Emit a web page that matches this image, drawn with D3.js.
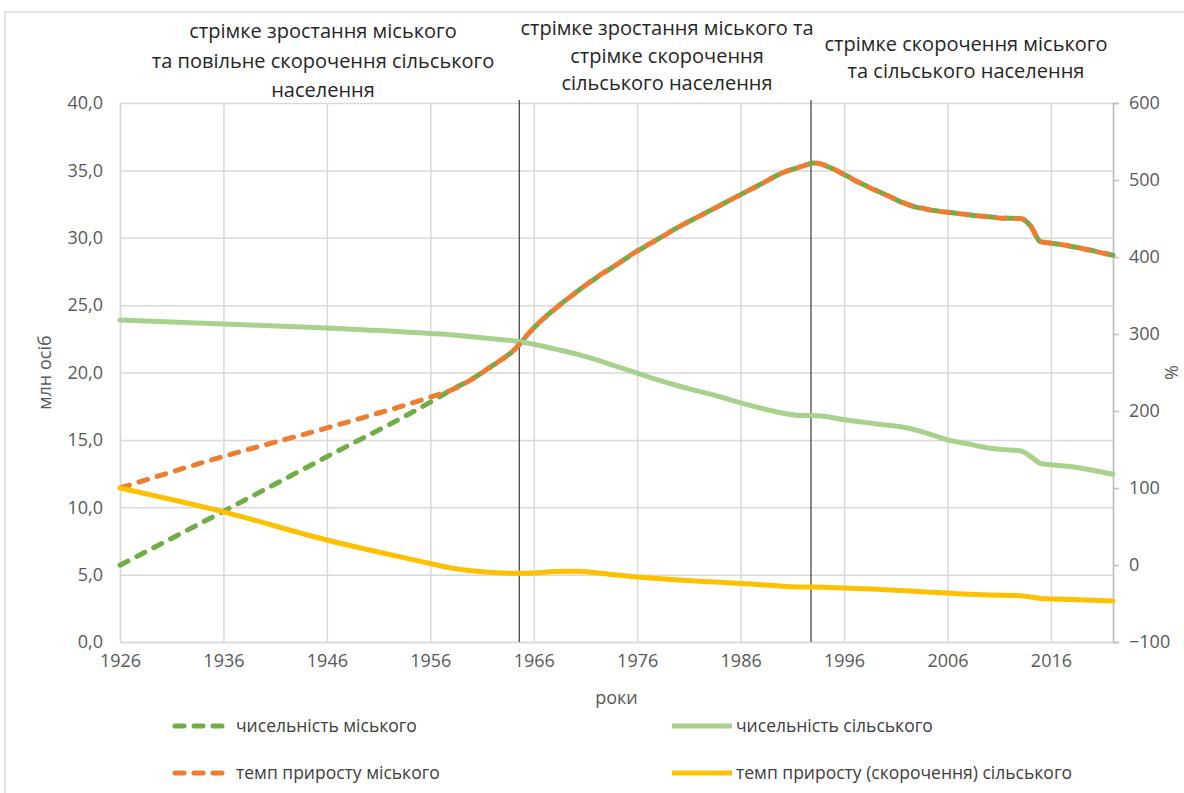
<!DOCTYPE html>
<html><head><meta charset="utf-8">
<script src="https://cdn.jsdelivr.net/npm/d3@7"></script>
<style>
body{margin:0;background:#fff}
svg{display:block}
text{font-family:"Open Sans",sans-serif}
</style>
</head><body>
<svg id="chart" width="1184" height="793"></svg>
<script>
// ---- data ----
const years = [1926,1936,1946,1956,1958,1960,1962,1964,1966,1968,1970,1972,1974,1976,1978,1980,1982,1984,1986,1988,1990,1992,1993,1994,1996,1998,2000,2002,2004,2006,2008,2010,2012,2013,2014,2015,2016,2018,2020,2022];
const urbanPop = [5.7,9.7,13.75,17.8,18.7,19.5,20.5,21.6,23.3,24.7,25.9,27.0,28.0,29.0,29.9,30.8,31.6,32.4,33.2,34.0,34.8,35.3,35.55,35.4,34.7,33.9,33.2,32.5,32.1,31.9,31.7,31.55,31.45,31.45,30.9,29.7,29.6,29.35,29.05,28.7];
const ruralPop = [23.9,23.6,23.3,22.9,22.8,22.65,22.5,22.35,22.1,21.75,21.4,20.95,20.45,19.95,19.45,19.0,18.6,18.2,17.75,17.35,17.0,16.8,16.8,16.75,16.5,16.3,16.1,15.9,15.5,15.0,14.7,14.4,14.25,14.2,13.8,13.25,13.15,13.0,12.75,12.45];
const urbanRate = [100,141,178,218,227,241,259,278,308,332,353,373,390,408,423,439,453,467,481,495,509,518,522,520,507,493,481,469,462,458,455,452,450,450,441,420,418,414,408,402];
const ruralRate = [100,69,32.5,2,-4,-7.5,-9.8,-10.8,-10.5,-8.5,-8,-10,-13,-15.5,-17.5,-19.5,-21,-22.5,-24,-25.5,-27.5,-28.5,-28.7,-29,-30,-31,-32,-33.5,-35,-36.5,-38,-39,-39.5,-39.8,-41.5,-43.5,-44,-44.8,-45.7,-46.7];
const xTicks = [1926,1936,1946,1956,1966,1976,1986,1996,2006,2016];
const leftTicks = [0,5,10,15,20,25,30,35,40];
const rightTicks = [-100,0,100,200,300,400,500,600];
const dividerYears = [1964.6, 1992.8];
const periodLabels = [
  ["стрімке зростання міського", "та повільне скорочення сільського", "населення"],
  ["стрімке зростання міського та", "стрімке скорочення", "сільського населення"],
  ["стрімке скорочення міського", "та сільського населення"]
];
const seriesNames = ["чисельність міського", "чисельність сільського", "темп приросту міського", "темп приросту (скорочення) сільського"];
const xTitle = "роки", yLeftTitle = "млн осіб", yRightTitle = "%";

// ---- layout ----
const svg = d3.select("#chart");
const L = 120, R = 1113, T = 103, B = 642;
const x = d3.scaleLinear().domain([1926, 2022]).range([L, R]);
const yL = d3.scaleLinear().domain([0, 40]).range([B, T]);
const yR = d3.scaleLinear().domain([-100, 600]).range([B, T]);

const C = {urban:"#70ad47", rural:"#a9d18e", urate:"#ed7d31", rrate:"#ffc000", grid:"#d9d9d9", label:"#595959"};

// border
svg.append("rect").attr("x",5).attr("y",12).attr("width",1300).attr("height",900)
  .attr("fill","none").attr("stroke","#d9d9d9").attr("stroke-width",1.5);

// gridlines + left axis
const gl = svg.append("g").attr("transform",`translate(${L},0)`)
  .call(d3.axisLeft(yL).tickValues(leftTicks).tickSize(-(R-L)).tickPadding(17)
    .tickFormat(d => d.toFixed(1).replace(".", ",")));
gl.select(".domain").remove();
gl.selectAll("line").attr("stroke", C.grid).attr("stroke-width",1.5);
gl.selectAll("text").attr("fill", C.label).style("font-size","18px");

const gb = svg.append("g").attr("transform",`translate(0,${B})`)
  .call(d3.axisBottom(x).tickValues(xTicks).tickSize(-(B-T)).tickPadding(12).tickFormat(d3.format("d")));
gb.select(".domain").attr("stroke", C.grid).attr("stroke-width",1.5);
gb.selectAll("line").attr("stroke", C.grid).attr("stroke-width",1.5);
gb.selectAll("text").attr("fill", C.label).style("font-size","18px");

const gr = svg.append("g").attr("transform",`translate(${R},0)`)
  .call(d3.axisRight(yR).tickValues(rightTicks).tickSize(6).tickPadding(10));
gr.select(".domain").attr("stroke","#bfbfbf").attr("stroke-width",1.5);
gr.selectAll("line").attr("stroke","#bfbfbf").attr("stroke-width",1.5);
gr.selectAll("text").attr("fill", C.label).style("font-size","18px");

// axis titles
svg.append("text").attr("x",(L+R)/2).attr("y",704).attr("text-anchor","middle")
  .attr("fill",C.label).style("font-size","18px").text(xTitle);
svg.append("text").attr("transform",`translate(51,${(T+B)/2}) rotate(-90)`).attr("text-anchor","middle")
  .attr("fill",C.label).style("font-size","18px").text(yLeftTitle);
svg.append("text").attr("transform",`translate(1178,${(T+B)/2}) rotate(-90)`).attr("text-anchor","middle")
  .attr("fill",C.label).style("font-size","18px").text(yRightTitle);

// divider lines
svg.selectAll(".div").data(dividerYears).join("line")
  .attr("x1",d=>x(d)).attr("x2",d=>x(d)).attr("y1",T-3).attr("y2",B)
  .attr("stroke","#3a3a3a").attr("stroke-width",1.2);

// series
const curve = d3.curveMonotoneX;
const mk = (vals, ys) => d3.line().x((d,i)=>x(years[i])).y((d,i)=>ys(vals[i])).curve(curve)(vals);
const dash = "9,10", period = 19;
const pUrban = svg.append("path").attr("d", mk(urbanPop, yL)).attr("fill","none").attr("stroke",C.urban)
  .attr("stroke-width",5).attr("stroke-dasharray",dash).attr("stroke-linecap","round");
svg.append("path").attr("d", mk(ruralPop, yL)).attr("fill","none").attr("stroke",C.rural)
  .attr("stroke-width",5).attr("stroke-linecap","round");
const pRate = svg.append("path").attr("d", mk(urbanRate, yR)).attr("fill","none").attr("stroke",C.urate)
  .attr("stroke-width",5).attr("stroke-dasharray",dash).attr("stroke-linecap","round");
svg.append("path").attr("d", mk(ruralRate, yR)).attr("fill","none").attr("stroke",C.rrate)
  .attr("stroke-width",5).attr("stroke-linecap","round");

// offset the orange dashes so green shows between them where the two lines coincide
function lengthAtX(node, targetX) {
  let lo = 0, hi = node.getTotalLength();
  for (let k = 0; k < 40; k++) {
    const mid = (lo + hi) / 2;
    if (node.getPointAtLength(mid).x < targetX) lo = mid; else hi = mid;
  }
  return lo;
}
const xm = x(1970);
const sG = lengthAtX(pUrban.node(), xm), sO = lengthAtX(pRate.node(), xm);
let off = ((sG - sO + period / 2) % period + period) % period;
pRate.attr("stroke-dashoffset", -off);

// period labels
const blocks = [
  {cx:323, ys:[38,68,97]},
  {cx:667, ys:[35,63,90]},
  {cx:966, ys:[51,78]}
];
periodLabels.forEach((lines, bi) => {
  lines.forEach((t, li) => {
    svg.append("text").attr("x",blocks[bi].cx).attr("y",blocks[bi].ys[li]).attr("text-anchor","middle")
      .attr("fill","#262626").style("font-size","20px").text(t);
  });
});

// legend
const leg = [
  {name:seriesNames[0], color:C.urban, dashed:true, x:172, y:726},
  {name:seriesNames[1], color:C.rural, dashed:false, x:672, y:726},
  {name:seriesNames[2], color:C.urate, dashed:true, x:172, y:773},
  {name:seriesNames[3], color:C.rrate, dashed:false, x:672, y:773}
];
leg.forEach(d => {
  if (d.dashed) {
    svg.append("line").attr("x1",d.x+3).attr("x2",d.x+57).attr("y1",d.y).attr("y2",d.y)
      .attr("stroke",d.color).attr("stroke-width",5).attr("stroke-linecap","round").attr("stroke-dasharray","9,10");
  } else {
    svg.append("line").attr("x1",d.x).attr("x2",d.x+60).attr("y1",d.y).attr("y2",d.y)
      .attr("stroke",d.color).attr("stroke-width",5);
  }
  svg.append("text").attr("x",d.x+64).attr("y",d.y).attr("dy","0.35em")
    .attr("fill","#404040").style("font-size","17.5px").text(d.name);
});
</script>
</body></html>
